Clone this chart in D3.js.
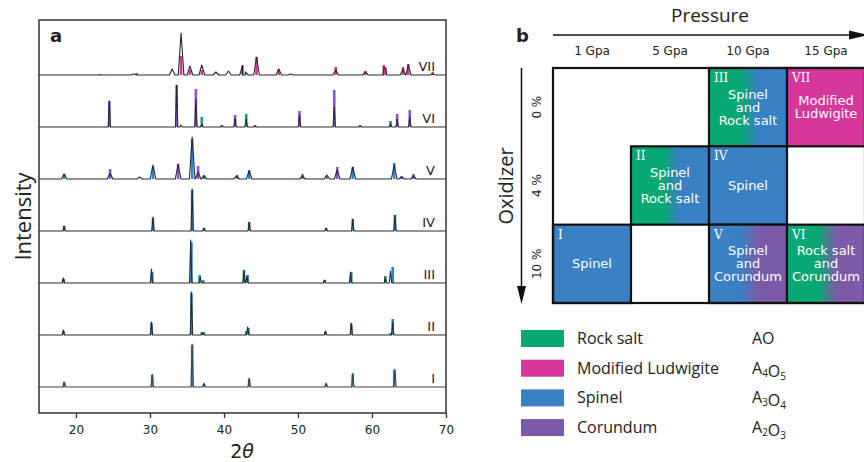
<!DOCTYPE html>
<html>
<head>
<meta charset="utf-8">
<script src="https://d3js.org/d3.v7.min.js"></script>
<style>
  body { margin: 0; background: #fff; }
  svg { display: block; }
</style>
</head>
<body>
<div id="chart"></div>
<script>

// ---- panel a : XRD patterns ----
// each reference stick: [2theta, height, phase]; observed peaks: [2theta, height]
var patternNames = ["VII", "VI", "V", "IV", "III", "II", "I"];
var ticks2theta = [20, 30, 40, 50, 60, 70];

var obsI   = [[18.4,5],[30.3,13],[35.7,43],[37.3,4],[43.4,9],[53.8,4],[57.4,14],[63.1,18]];
var refI   = [[18.4,5,"S"],[30.3,12,"S"],[35.7,42,"S"],[37.3,3,"S"],[43.4,8,"S"],[53.8,3,"S"],[57.4,13,"S"],[63.0,17,"S"]];

var obsII  = [[18.3,5],[30.2,13],[35.6,43],[37.1,2],[43.2,8],[53.7,4],[57.2,12],[62.8,13]];
var refII  = [[18.3,4,"S"],[30.2,12,"S"],[35.6,42,"S"],[37.3,3,"S"],[43.3,7,"S"],[53.7,3,"S"],[57.2,11,"S"],[62.8,16,"S"],
              [37.0,3,"R"],[43.0,4,"R"],[62.5,2,"R"]];

var obsIII = [[18.3,5],[30.2,14],[35.5,43],[36.8,6],[42.7,12],[43.1,7],[53.6,3],[57.1,11],[61.8,5],[62.5,12]];
var refIII = [[18.3,4,"S"],[30.3,11,"S"],[35.6,41,"S"],[37.2,3,"S"],[43.2,8,"S"],[53.6,3,"S"],[57.2,11,"S"],[62.8,16,"S"],
              [36.7,8,"R"],[42.7,13,"R"],[61.8,7,"R"]];

var obsIV  = [[18.4,5],[30.4,14],[35.7,42],[37.3,3],[43.4,9],[53.8,3],[57.4,12],[63.1,16]];
var refIV  = [[18.4,5,"S"],[30.4,13,"S"],[35.7,41,"S"],[37.3,3,"S"],[43.4,9,"S"],[53.8,3,"S"],[57.4,12,"S"],[63.1,16,"S"]];

var obsV   = [[18.4,5],[24.6,6],[28.6,2],[30.4,14],[33.8,15],[35.7,42],[36.5,7],[37.3,3],[41.7,3],[43.4,8],
              [50.6,3],[53.9,4],[55.3,9],[57.4,12],[63.0,14],[64.0,2],[65.6,3]];
var refV   = [[18.4,5,"S"],[30.4,12,"S"],[35.7,40,"S"],[37.3,4,"S"],[43.4,9,"S"],[53.9,3,"S"],[57.4,12,"S"],[63.0,16,"S"],
              [24.6,10,"C"],[33.8,15,"C"],[36.5,13,"C"],[41.8,4,"C"],[50.6,5,"C"],[55.3,12,"C"],[64.0,3,"C"],[65.6,5,"C"]];

var obsVI  = [[24.5,26],[33.6,42],[34.2,2],[36.2,28],[37.0,3],[39.7,1],[41.5,9],[43.0,8],[44.2,1],
              [50.2,12],[54.9,20],[58.4,1],[62.5,3],[63.4,8],[65.1,10]];
var refVI  = [[24.5,26,"C"],[33.6,42,"C"],[36.2,38,"C"],[39.7,2,"C"],[41.5,12,"C"],[44.2,2,"C"],[50.2,16,"C"],
              [54.9,37,"C"],[58.4,2,"C"],[63.4,13,"C"],[65.1,17,"C"],
              [37.0,10,"R"],[43.0,13,"R"],[62.5,6,"R"]];

var obsVII = [[27.8,1],[33.0,6],[34.2,42],[35.4,9],[37.0,10],[38.9,3],[40.6,4],[42.5,9],[42.9,3],[44.4,18],
              [47.4,6],[49.0,1],[55.1,5],[59.1,3],[61.6,8],[61.9,5],[64.2,6],[64.9,10],[68.2,1]];
var refVII = [[23.2,1,"M"],[28.2,2,"M"],[34.2,19,"M"],[35.4,5,"M"],[37.0,5,"M"],[42.5,10,"M"],[44.4,18,"M"],
              [47.4,6,"M"],[55.1,8,"M"],[59.1,4,"M"],[61.6,10,"M"],[61.8,8,"M"],[64.2,8,"M"],[64.9,11,"M"],[68.2,3,"M"]];

var observed  = { "I": obsI, "II": obsII, "III": obsIII, "IV": obsIV, "V": obsV, "VI": obsVI, "VII": obsVII };
var reference = { "I": refI, "II": refII, "III": refIII, "IV": refIV, "V": refV, "VI": refVI, "VII": refVII };

// ---- panel b : synthesis map ----
var pressures = ["1 Gpa", "5 Gpa", "10 Gpa", "15 Gpa"];
var oxidizers = ["0 %", "4 %", "10 %"];
// [sample, pressure, oxidizer, phases (left -> right), label lines]
var samples = [
  ["I",   "1 Gpa",  "10 %", ["S"],      ["Spinel"]],
  ["II",  "5 Gpa",  "4 %",  ["R", "S"], ["Spinel", "and", "Rock salt"]],
  ["III", "10 Gpa", "0 %",  ["R", "S"], ["Spinel", "and", "Rock salt"]],
  ["IV",  "10 Gpa", "4 %",  ["S"],      ["Spinel"]],
  ["V",   "10 Gpa", "10 %", ["S", "C"], ["Spinel", "and", "Corundum"]],
  ["VI",  "15 Gpa", "10 %", ["R", "C"], ["Rock salt", "and", "Corundum"]],
  ["VII", "15 Gpa", "0 %",  ["M"],      ["Modified", "Ludwigite"]]
];

var legendKeys  = ["R", "M", "S", "C"];
var legendNames = ["Rock salt", "Modified Ludwigite", "Spinel", "Corundum"];
var legendFormulas = [[["AO", 0]], [["A", 0], ["4", 1], ["O", 0], ["5", 1]],
                      [["A", 0], ["3", 1], ["O", 0], ["4", 1]], [["A", 0], ["2", 1], ["O", 0], ["3", 1]]];

var stickColor = { S: "#2f86d6", R: "#10a06e", M: "#d63a98", C: "#8c52e4" };
var phaseColor = { S: "#3a80c4", R: "#08a874", M: "#d5389a", C: "#7b5ba7" };

var width = 864, height = 462;

var svg = d3.select("#chart").append("svg")
    .attr("width", width)
    .attr("height", height)
    .style("font-family", "'DejaVu Sans', sans-serif");

// ================= panel a =================
var frame = { left: 39, right: 446, top: 20, bottom: 413 };

var x = d3.scaleLinear().domain([15, 70]).range([frame.left, frame.right]);
var base = d3.scalePoint().domain(patternNames).range([75, 387]);
var inten = d3.scaleLinear().domain([0, 50]).range([0, 50]);

var gA = svg.append("g");

// reference sticks
patternNames.forEach(function (name) {
  var b = base(name);
  gA.append("g").selectAll("rect")
    .data(reference[name])
    .enter()
    .append("rect")
    .attr("x", function (d) { return x(d[0]) - 1.3; })
    .attr("y", function (d) { return b - inten(d[1]); })
    .attr("width", 2.6)
    .attr("height", function (d) { return inten(d[1]); })
    .attr("fill", function (d) { return stickColor[d[2]]; });
});

// observed patterns
patternNames.forEach(function (name) {
  var b = base(name);
  var hw = (name === "V" || name === "VII") ? 0.38 : 0.16;
  var pts = [[15, 0]];
  observed[name].forEach(function (p) {
    pts.push([p[0] - hw, 0], [p[0], p[1]], [p[0] + hw, 0]);
  });
  pts.push([70, 0]);
  pts.sort(function (a, c) { return a[0] - c[0]; });

  var line = d3.line()
    .x(function (d) { return x(d[0]); })
    .y(function (d) { return b - inten(d[1]); });

  gA.append("path")
    .attr("d", line(pts))
    .attr("fill", "none")
    .attr("stroke", name === "I" ? "#444" : "#2a2a2a")
    .attr("stroke-width", 1.1)
    .attr("stroke-linejoin", "round");

  gA.append("text")
    .attr("x", 435)
    .attr("y", b - 4)
    .attr("text-anchor", "end")
    .attr("font-size", "13px")
    .attr("fill", "#222")
    .text(name);
});

// frame
gA.append("rect")
  .attr("x", frame.left)
  .attr("y", frame.top)
  .attr("width", frame.right - frame.left)
  .attr("height", frame.bottom - frame.top)
  .attr("fill", "none")
  .attr("stroke", "#333")
  .attr("stroke-width", 1.5);

var xAxis = d3.axisBottom(x).tickValues(ticks2theta).tickSize(5).tickPadding(7);
var ax = gA.append("g")
  .attr("transform", "translate(0," + frame.bottom + ")")
  .call(xAxis);
ax.select(".domain").remove();
ax.selectAll("line").attr("stroke", "#333").attr("stroke-width", 1.3);
ax.selectAll("text").attr("font-size", "12px").attr("fill", "#222")
  .attr("font-family", "'DejaVu Sans', sans-serif");

gA.append("text")
  .attr("x", 242)
  .attr("y", 458)
  .attr("text-anchor", "middle")
  .attr("font-size", "19px")
  .attr("fill", "#222")
  .html("2<tspan font-style='italic'>θ</tspan>");

gA.append("text")
  .attr("transform", "translate(31," + ((frame.top + frame.bottom) / 2) + ") rotate(-90)")
  .attr("text-anchor", "middle")
  .attr("font-family", "'Open Sans', sans-serif")
  .attr("font-size", "22px")
  .attr("fill", "#222")
  .text("Intensity");

gA.append("text")
  .attr("x", 50)
  .attr("y", 42)
  .attr("font-size", "18px")
  .attr("font-weight", "bold")
  .attr("fill", "#222")
  .text("a");

// ================= panel b =================
var gB = svg.append("g");

var px = d3.scaleBand().domain(pressures).range([553, 865]);
var oy = d3.scaleBand().domain(oxidizers).range([68, 303]);

var defs = svg.append("defs");
samples.forEach(function (s) {
  if (s[3].length < 2) return;
  var grad = defs.append("linearGradient")
    .attr("id", "grad-" + s[0])
    .attr("x1", "0%").attr("x2", "100%")
    .attr("y1", "0%").attr("y2", "0%");
  grad.append("stop").attr("offset", "0").attr("stop-color", phaseColor[s[3][0]]);
  grad.append("stop").attr("offset", "0.4").attr("stop-color", phaseColor[s[3][0]]);
  grad.append("stop").attr("offset", "0.63").attr("stop-color", phaseColor[s[3][1]]);
  grad.append("stop").attr("offset", "1").attr("stop-color", phaseColor[s[3][1]]);
});

gB.append("text")
  .attr("x", 710)
  .attr("y", 22)
  .attr("text-anchor", "middle")
  .attr("font-family", "'Open Sans', sans-serif")
  .attr("font-size", "19px")
  .attr("fill", "#222")
  .text("Pressure");

gB.append("line")
  .attr("x1", 553).attr("x2", 856)
  .attr("y1", 35).attr("y2", 35)
  .attr("stroke", "#111").attr("stroke-width", 1.5);
gB.append("path")
  .attr("d", "M849,30.5 L868,35 L849,39.5 Z")
  .attr("fill", "#111");

gB.append("text")
  .attr("x", 516)
  .attr("y", 42)
  .attr("font-size", "18px")
  .attr("font-weight", "bold")
  .attr("fill", "#222")
  .text("b");

gB.selectAll(".plabel")
  .data(pressures)
  .enter()
  .append("text")
  .attr("class", "plabel")
  .attr("x", function (d) { return px(d) + px.bandwidth() / 2; })
  .attr("y", 55)
  .attr("text-anchor", "middle")
  .attr("font-size", "12px")
  .attr("fill", "#222")
  .text(function (d) { return d; });

gB.append("line")
  .attr("x1", 521.5).attr("x2", 521.5)
  .attr("y1", 68).attr("y2", 292)
  .attr("stroke", "#111").attr("stroke-width", 1.5);
gB.append("path")
  .attr("d", "M517,286 L521.5,304 L526,286 Z")
  .attr("fill", "#111");

gB.append("text")
  .attr("transform", "translate(513,186) rotate(-90)")
  .attr("text-anchor", "middle")
  .attr("font-family", "'Open Sans', sans-serif")
  .attr("font-size", "20px")
  .attr("fill", "#222")
  .text("Oxidizer");

gB.selectAll(".olabel")
  .data(oxidizers)
  .enter()
  .append("text")
  .attr("class", "olabel")
  .attr("transform", function (d) {
    return "translate(541," + (oy(d) + oy.bandwidth() / 2) + ") rotate(-90)";
  })
  .attr("text-anchor", "middle")
  .attr("font-size", "12px")
  .attr("fill", "#222")
  .text(function (d) { return d; });

var cells = gB.selectAll(".cell")
  .data(samples)
  .enter()
  .append("g")
  .attr("class", "cell")
  .attr("transform", function (d) { return "translate(" + px(d[1]) + "," + oy(d[2]) + ")"; });

cells.append("rect")
  .attr("width", px.bandwidth())
  .attr("height", oy.bandwidth())
  .attr("fill", function (d) {
    return d[3].length > 1 ? "url(#grad-" + d[0] + ")" : phaseColor[d[3][0]];
  })
  .attr("stroke", "#111")
  .attr("stroke-width", 2.2);

cells.append("text")
  .attr("x", 5)
  .attr("y", 14)
  .attr("font-family", "'DejaVu Serif', serif")
  .attr("font-size", "12px")
  .attr("fill", "#fff")
  .text(function (d) { return d[0]; });

cells.each(function (d) {
  var n = d[4].length;
  var g = d3.select(this);
  d[4].forEach(function (t, i) {
    g.append("text")
      .attr("x", px.bandwidth() / 2)
      .attr("y", oy.bandwidth() / 2 + (i - (n - 1) / 2) * 13 + 4.5)
      .attr("text-anchor", "middle")
      .attr("font-size", "13px")
      .attr("fill", "#fff")
      .text(t);
  });
});

// outer frame of the map
gB.append("rect")
  .attr("x", 553)
  .attr("y", 68)
  .attr("width", 865 - 553)
  .attr("height", 303 - 68)
  .attr("fill", "none")
  .attr("stroke", "#111")
  .attr("stroke-width", 2.2);

// legend
var leg = gB.selectAll(".leg")
  .data(legendKeys)
  .enter()
  .append("g")
  .attr("class", "leg")
  .attr("transform", function (d, i) { return "translate(521," + (330 + i * 29.7) + ")"; });

leg.append("rect")
  .attr("width", 43)
  .attr("height", 17)
  .attr("fill", function (d) { return phaseColor[d]; });

leg.append("text")
  .attr("x", 56)
  .attr("y", 14)
  .attr("font-family", "'Open Sans', sans-serif")
  .attr("font-size", "16px")
  .attr("fill", "#222")
  .text(function (d, i) { return legendNames[i]; });

leg.each(function (d, i) {
  var t = d3.select(this).append("text")
    .attr("x", 231)
    .attr("y", 14)
    .attr("font-family", "'Open Sans', sans-serif")
    .attr("font-size", "16px")
    .attr("fill", "#222");
  legendFormulas[i].forEach(function (part) {
    t.append("tspan")
      .attr("font-size", part[1] ? "10px" : "16px")
      .attr("dy", part[1] ? 3 : (0))
      .text(part[0]);
    if (part[1]) t.append("tspan").attr("dy", -3).attr("font-size", "16px").text("");
  });
});

</script>
</body>
</html>
